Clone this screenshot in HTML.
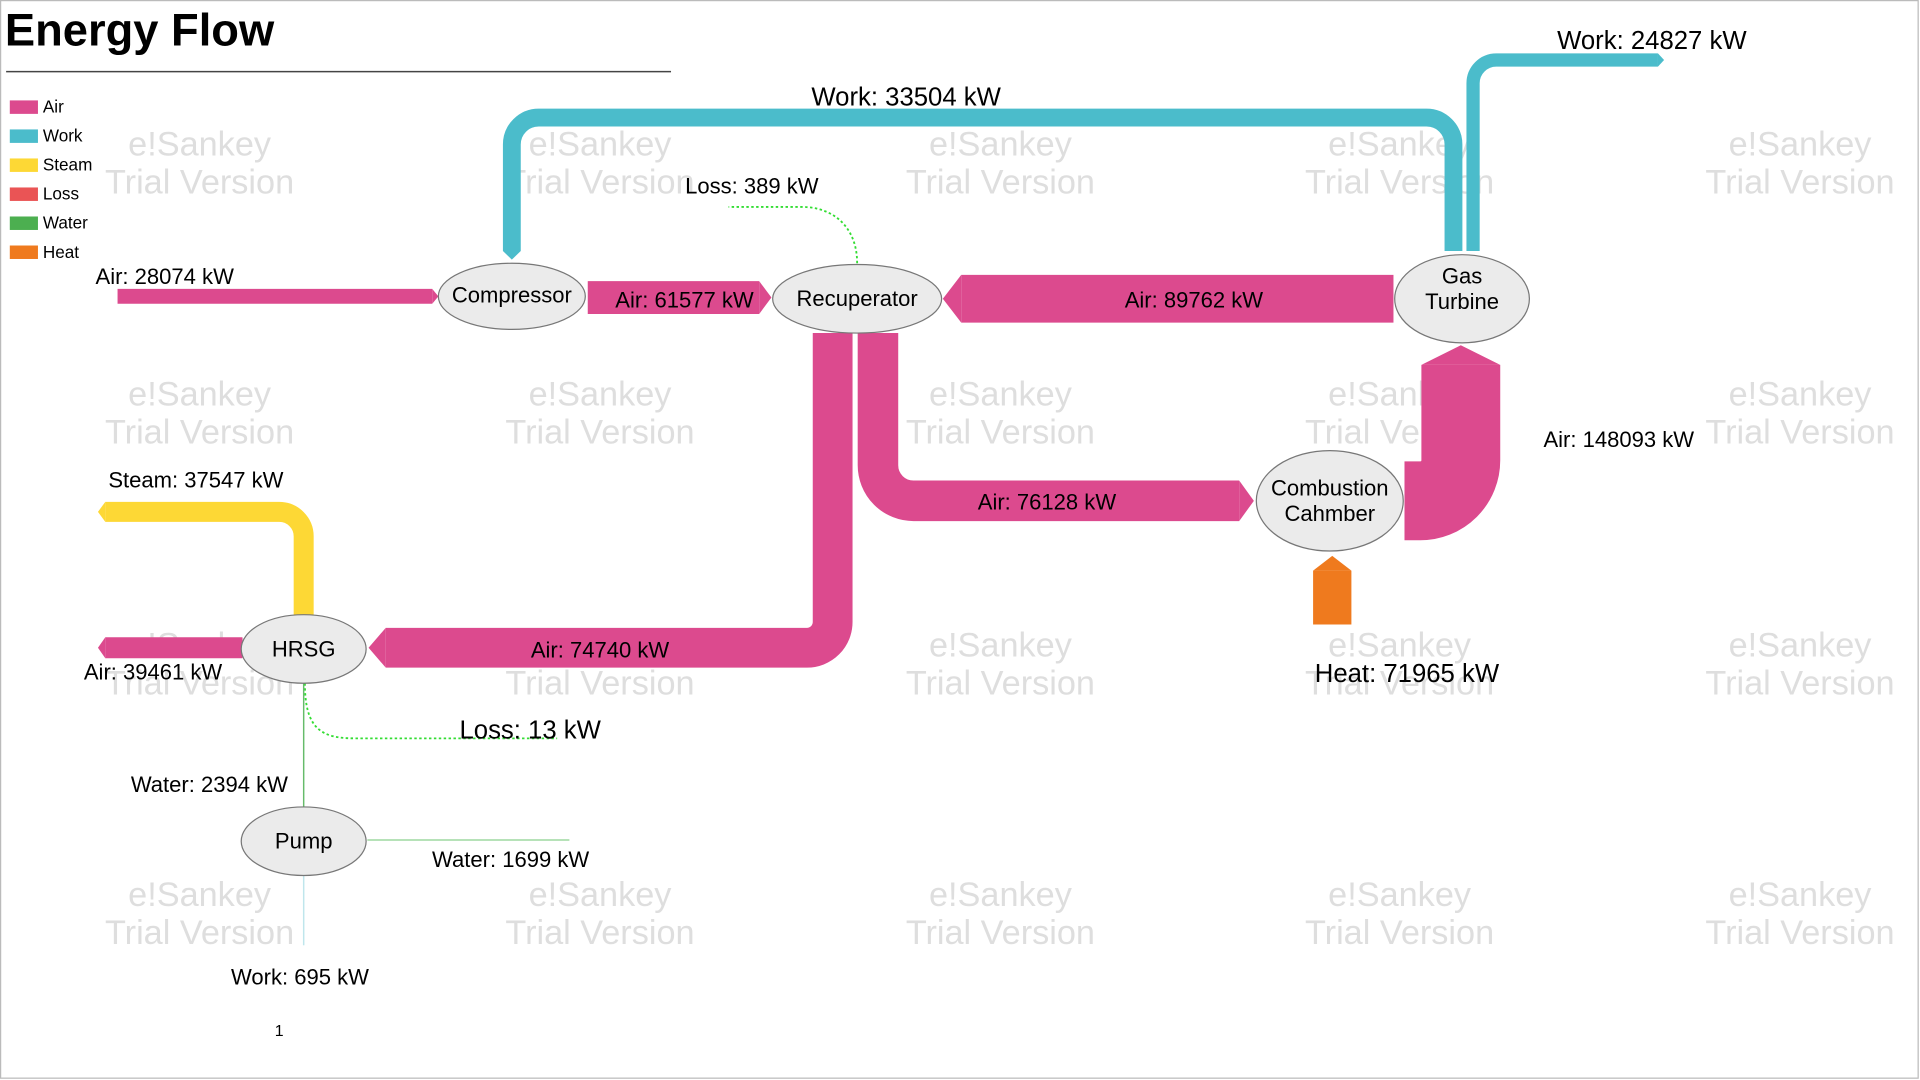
<!DOCTYPE html>
<html><head><meta charset="utf-8"><title>Energy Flow</title>
<style>
html,body{margin:0;padding:0;background:#fff;}
svg{display:block;font-family:"Liberation Sans",Arial,sans-serif;}
</style></head>
<body>
<svg id="chart" width="1920" height="1080" viewBox="0 0 1568 882" preserveAspectRatio="none" xmlns="http://www.w3.org/2000/svg">
<rect x="0.5" y="0.5" width="1566" height="880" fill="#fff" stroke="#bbb"/>
<g id="wm"></g>
<text x="4" y="37" font-size="37" font-weight="bold" fill="#000">Energy Flow</text>
<line x1="5" y1="58.5" x2="548" y2="58.5" stroke="#444" stroke-width="1.2"/>
<g id="legend"></g>
<g id="flows"></g>
<g id="nodes"></g>
<g id="labels"></g>
<text x="228" y="846" font-size="13" text-anchor="middle">1</text>
</svg>
<script>
const legendNames = ["Air","Work","Steam","Loss","Water","Heat"];
const legendColors = ["#dc4a8e","#4bbccb","#fdd835","#ea5455","#4caf50","#ef7a1e"];
const flowNames = ["air-in","air-compressed","air-turbine-exhaust","work-compressor","work-out","air-to-hrsg","air-to-combustion","air-to-turbine","heat-in","steam-out","air-stack","loss-recuperator","loss-hrsg","water-hrsg","water-in","work-pump"];
const flowTypes = ["Air","Air","Air","Work","Work","Air","Air","Air","Heat","Steam","Air","Loss","Loss","Water","Water","Work"];
const flowValues = [28074,61577,89762,33504,24827,74740,76128,148093,71965,37547,39461,389,13,2394,1699,695];
const nodeNames = ["Compressor","Recuperator","Gas|Turbine","Combustion|Cahmber","HRSG","Pump"];

const NS="http://www.w3.org/2000/svg";
function mk(tag, attrs, parent){const e=document.createElementNS(NS,tag);for(const k in attrs)e.setAttribute(k,attrs[k]);parent.appendChild(e);return e;}
const W = v => Math.max(1, v/2300);
const col = t => legendColors[legendNames.indexOf(t)];

const wm=document.getElementById('wm');
[163,490,817,1143,1470].forEach(x=>[118,322,527,731].forEach(y=>{
  const t1=mk('text',{x:x,y:y+9,'font-size':28,'text-anchor':'middle',fill:'#dedede'},wm);t1.textContent='e!Sankey';
  
  
  const t2=mk('text',{x:x,y:y+40,'font-size':28,'text-anchor':'middle',fill:'#dedede'},wm);t2.textContent='Trial Version';
  
  
}));

const lg=document.getElementById('legend');
legendNames.forEach((n,i)=>{
  const g=mk('g',{},lg);
  
  
  mk('rect',{x:8,y:82+i*23.7,width:23,height:11,fill:legendColors[i]},g);
  const t=mk('text',{x:35,y:92+i*23.7,'font-size':14,fill:'#000'},g);t.textContent=n;
});

const fl=document.getElementById('flows');
function flow(i, d){
  const w=W(flowValues[i]);
  const p=mk('path',{d:d,fill:'none',stroke:col(flowTypes[i]),'stroke-width':w},fl);
  
  
  return w;
}
function arrow(i,x,y,dir,len){
  const w=W(flowValues[i]), h=w/2; let pts;
  if(dir==='r')pts=[[x,y-h],[x+len,y],[x,y+h]];
  if(dir==='l')pts=[[x,y-h],[x-len,y],[x,y+h]];
  if(dir==='u')pts=[[x-h,y],[x,y-len],[x+h,y]];
  const p=mk('polygon',{points:pts.map(a=>a.join(',')).join(' '),fill:col(flowTypes[i])},fl);
  
  
}
flow(0,"M96 242 H353"); arrow(0,353,242,'r',5);
flow(1,"M480 243 H620"); arrow(1,620,243,'r',10);
flow(2,"M1138 244 H785"); arrow(2,785,244,'l',15);
flow(3,"M1187 205 V118 A22 22 0 0 0 1165 96 H440 A22 22 0 0 0 418 118 V205");
arrow(3,418,205,'u',-7);
flow(4,"M1203 205 V68 A19 19 0 0 1 1222 49 H1354"); arrow(4,1354,49,'r',5);
flow(5,"M680 272 V508 A21 21 0 0 1 659 529 H315"); arrow(5,315,529,'l',14);
flow(6,"M717 272 V380 A29 29 0 0 0 746 409 H1012"); arrow(6,1012,409,'r',12);
flow(7,"M1147 409 H1160 A33 33 0 0 0 1193 376 V298"); arrow(7,1193,298,'u',16);
flow(8,"M1088 510 V466"); arrow(8,1088,466,'u',12);
flow(9,"M248 502 V438 A20 20 0 0 0 228 418 H86"); arrow(9,86,418,'l',6);
flow(10,"M198 529 H86"); arrow(10,86,529,'l',6);
let p;
p=mk('path',{d:"M700 215 C700 185 680 169 655 169 H595",fill:'none',stroke:'#33dd33','stroke-width':1.5,'stroke-dasharray':'2 2'},fl);


p=mk('path',{d:"M249 558 C249 595 262 603 290 603 H455",fill:'none',stroke:'#33dd33','stroke-width':1.5,'stroke-dasharray':'2 2'},fl);


p=mk('path',{d:"M248 558 V659",fill:'none',stroke:'#66bb6a','stroke-width':1.2},fl);


p=mk('path',{d:"M300 686 H465",fill:'none',stroke:'#9ed8a0','stroke-width':1.2},fl);


p=mk('path',{d:"M248 715 V772",fill:'none',stroke:'#bfe6ec','stroke-width':1.2},fl);



const nd=document.getElementById('nodes');
const nodeGeom=[[418,242,60,27],[700,244,69,28],[1194,244,55,36],[1086,409,60,41],[248,530,51,28],[248,687,51,28]];
const nodeTextDy=[5,6,-2,6,6,6];
nodeNames.forEach((n,i)=>{
  const [cx,cy,rx,ry]=nodeGeom[i];
  const g=mk('g',{},nd);
  
  
  mk('ellipse',{cx:cx,cy:cy,rx:rx,ry:ry,fill:'#ebebeb',stroke:'#777','stroke-width':1},g);
  const lines=n.split('|');
  lines.forEach((l,j)=>{
    const t=mk('text',{x:cx,y:cy+nodeTextDy[i]+(j-(lines.length-1)/2)*21,'font-size':18,'text-anchor':'middle',fill:'#000'},g);
    t.textContent=l;
  });
});

const lb=document.getElementById('labels');
const labelPos=[[78,232,'start',18],[559,251,'middle',18],[975,251,'middle',18],[740,86,'middle',21],[1349,40,'middle',21],[490,537,'middle',18],[855,416,'middle',18],[1322,365,'middle',18],[1149,557,'middle',21],[160,398,'middle',18],[125,555,'middle',18],[614,158,'middle',18],[433,603,'middle',21],[171,647,'middle',18],[417,708,'middle',18],[245,804,'middle',18]];
flowValues.forEach((v,i)=>{
  const [x,y,a,s]=labelPos[i];
  const t=mk('text',{x:x,y:y,'font-size':s,'text-anchor':a,fill:'#000'},lb);
  t.textContent=flowTypes[i]+': '+v+' kW';
  
  
});
</script>
</body></html>
